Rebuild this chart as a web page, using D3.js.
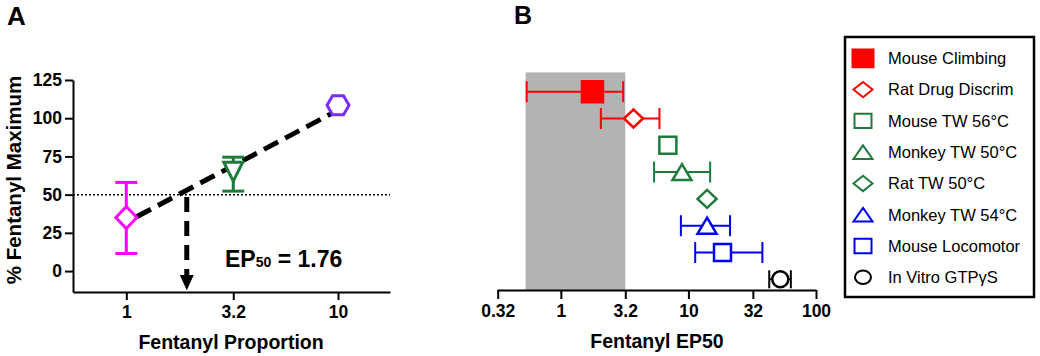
<html>
<head>
  <script src="https://d3js.org/d3.v7.min.js"></script>
  <style>
    body { margin: 0; background: #fff; }
    svg text { font-family: Arial, "Liberation Sans", sans-serif; }
    .axis path, .axis line { stroke: #000; stroke-width: 2px; }
    .axis text { font-size: 17.5px; font-weight: bold; fill: #000; }
  </style>
</head>
<body>
<svg id="fig" width="1040" height="356"></svg>

<script>
  // ---- panel A data ----
  const propX = [1, 3.2, 10];
  const pctY = [35, 65, 108.5];
  const pctLo = [11.5, 52.3, null];
  const pctHi = [58, 74.5, null];
  const propColors = ["#ff00ff", "#1f7a3c", "#7b2cf5"];
  const propShapes = ["diamond", "triangleDown", "hexagon"];
  const fitLine = [{x: 1.12, y: 35.5}, {x: 9.3, y: 103}];
  const ep50Arrow = 1.93;
  const yTicksA = [0, 25, 50, 75, 100, 125];
  const xTicksA = [1, 3.2, 10];
  const xTickLabelsA = ["1", "3.2", "10"];

  // ---- panel B data ----
  const assays = ["Mouse Climbing", "Rat Drug Discrim", "Mouse TW 56°C", "Monkey TW 50°C",
                  "Rat TW 50°C", "Monkey TW 54°C", "Mouse Locomotor", "In Vitro GTPγS"];
  const ep50 = [1.77, 3.71, 6.9, 8.9, 14.0, 14.0, 18.5, 52.5];
  const ep50Lo = [0.54, 2.06, null, 5.38, null, 8.73, 11.3, 43];
  const ep50Hi = [3.08, 5.93, null, 14.8, null, 21.2, 38, 63.5];
  const assayColors = ["#ff0000", "#ff0000", "#1f7a3c", "#1f7a3c", "#1f7a3c", "#0000ee", "#0000ee", "#000000"];
  const assayShapes = ["squareFilled", "diamond", "square", "triangle", "diamond", "triangle", "square", "circle"];
  const shadeRange = [0.53, 3.2];
  const xTicksB = [0.32, 1, 3.2, 10, 32, 100];
  const xTickLabelsB = ["0.32", "1", "3.2", "10", "32", "100"];

  const svg = d3.select("svg#fig");

  // simple marker paths centred on 0,0
  function shapePath(type, w, h) {
    const a = w / 2, b = h / 2;
    if (type == "diamond") return `M0,${-b}L${a},0L0,${b}L${-a},0Z`;
    if (type == "square" || type == "squareFilled") return `M${-a},${-b}H${a}V${b}H${-a}Z`;
    if (type == "triangle") return `M0,${-b}L${a},${b}L${-a},${b}Z`;
    if (type == "triangleDown") return `M${-a},${-b}H${a}L0,${b}Z`;
    if (type == "hexagon") return `M${-a},0L${-a/2},${-b}H${a/2}L${a},0L${a/2},${b}H${-a/2}Z`;
    if (type == "circle") return `M${-a},0A${a},${b} 0 1,0 ${a},0A${a},${b} 0 1,0 ${-a},0Z`;
  }

  // ================= Panel A =================
  const xA = d3.scaleLog().domain([0.56, 17.6]).range([73, 390]);
  const yA = d3.scaleLinear().domain([-13.7, 125]).range([292, 80]);

  let panelA = svg.append("g").attr("id", "panelA");

  panelA.append("text").attr("x", 7).attr("y", 25)
    .attr("font-size", 26).attr("font-weight", "bold").text("A");

  panelA.append("g").attr("class", "axis")
    .attr("transform", "translate(73,0)")
    .call(d3.axisLeft(yA).tickValues(yTicksA).tickSize(8).tickSizeOuter(0).tickPadding(3));

  panelA.append("g").attr("class", "axis")
    .attr("transform", "translate(0,292)")
    .call(d3.axisBottom(xA).tickValues(xTicksA).tickSize(8).tickSizeOuter(0).tickPadding(6)
            .tickFormat((d, i) => xTickLabelsA[i]));

  panelA.append("text")
    .attr("transform", "translate(21,180) rotate(-90)")
    .attr("text-anchor", "middle").attr("font-size", 20.5).attr("font-weight", "bold")
    .text("% Fentanyl Maximum");

  panelA.append("text").attr("x", 231).attr("y", 349)
    .attr("text-anchor", "middle").attr("font-size", 19.5).attr("font-weight", "bold")
    .text("Fentanyl Proportion");

  // 50% reference line
  panelA.append("line")
    .attr("x1", xA.range()[0]).attr("x2", xA.range()[1])
    .attr("y1", yA(50)).attr("y2", yA(50))
    .attr("stroke", "#000").attr("stroke-width", 1.5).attr("stroke-dasharray", "2,2");

  // fitted dashed line
  panelA.append("path")
    .datum(fitLine)
    .attr("d", d3.line().x(d => xA(d.x)).y(d => yA(d.y)))
    .attr("stroke", "#000").attr("stroke-width", 5).attr("stroke-dasharray", "16,8")
    .attr("fill", "none");

  // arrow down to EP50
  panelA.append("line")
    .attr("x1", xA(ep50Arrow)).attr("x2", xA(ep50Arrow))
    .attr("y1", yA(48.5)).attr("y2", yA(-3))
    .attr("stroke", "#000").attr("stroke-width", 5).attr("stroke-dasharray", "15,9");
  panelA.append("path")
    .attr("d", `M${xA(ep50Arrow) - 7},${yA(-2.5)}L${xA(ep50Arrow) + 7},${yA(-2.5)}L${xA(ep50Arrow)},${yA(-12.6)}Z`)
    .attr("fill", "#000");

  let epText = panelA.append("text").attr("x", 225).attr("y", 267)
    .attr("font-size", 23).attr("font-weight", "bold");
  epText.append("tspan").text("EP");
  epText.append("tspan").attr("font-size", 14).text("50");
  epText.append("tspan").text(" = 1.76");

  // error bars A
  propX.forEach((x, i) => {
    if (pctLo[i] == null) return;
    let g = panelA.append("g").attr("stroke", propColors[i]).attr("stroke-width", 3);
    g.append("line").attr("x1", xA(x)).attr("x2", xA(x)).attr("y1", yA(pctLo[i])).attr("y2", yA(pctHi[i]));
    [pctLo[i], pctHi[i]].forEach(v => {
      g.append("line").attr("x1", xA(x) - 11).attr("x2", xA(x) + 11).attr("y1", yA(v)).attr("y2", yA(v));
    });
  });

  panelA.selectAll("path.pt").data(propX)
    .join("path").attr("class", "pt")
    .attr("transform", (d, i) => `translate(${xA(d)},${yA(pctY[i])})`)
    .attr("d", (d, i) => propShapes[i] == "hexagon" ? shapePath("hexagon", 22, 19)
                        : propShapes[i] == "diamond" ? shapePath("diamond", 21, 22) : shapePath(propShapes[i], 19, 19))
    .attr("fill", "#fff").attr("stroke", (d, i) => propColors[i]).attr("stroke-width", 3);

  // ================= Panel B =================
  const xB = d3.scaleLog().domain([0.316, 100]).range([497, 816]);
  const yB = d3.scaleLinear().domain([1, 8]).range([91.7, 279.3]);

  let panelB = svg.append("g").attr("id", "panelB");

  panelB.append("text").attr("x", 514).attr("y", 24)
    .attr("font-size", 25).attr("font-weight", "bold").text("B");

  panelB.append("rect")
    .attr("x", xB(shadeRange[0])).attr("width", xB(shadeRange[1]) - xB(shadeRange[0]))
    .attr("y", yB(0.28)).attr("height", 290 - yB(0.28))
    .attr("fill", "#b3b3b3");

  panelB.append("g").attr("class", "axis")
    .attr("transform", "translate(0,290)")
    .call(d3.axisBottom(xB).tickValues(xTicksB).tickSize(9).tickSizeOuter(0).tickPadding(6)
            .tickFormat((d, i) => xTickLabelsB[i]));

  panelB.append("text").attr("x", 657).attr("y", 348)
    .attr("text-anchor", "middle").attr("font-size", 19.5).attr("font-weight", "bold")
    .text("Fentanyl EP50");

  ep50.forEach((v, i) => {
    if (ep50Lo[i] == null) return;
    let y = yB(i + 1);
    let cap = assayShapes[i] == "circle" ? 9 : 10.5;
    let g = panelB.append("g").attr("stroke", assayColors[i]).attr("stroke-width", 2);
    g.append("line").attr("x1", xB(ep50Lo[i])).attr("x2", xB(ep50Hi[i])).attr("y1", y).attr("y2", y);
    [ep50Lo[i], ep50Hi[i]].forEach(e => {
      g.append("line").attr("x1", xB(e)).attr("x2", xB(e)).attr("y1", y - cap).attr("y2", y + cap);
    });
  });

  function markerSize(s) {
    if (s == "squareFilled") return [21, 21];
    if (s == "square") return [17, 17];
    if (s == "triangle") return [19, 16];
    if (s == "circle") return [16, 16];
    return [19, 18];
  }

  panelB.selectAll("path.pt").data(ep50)
    .join("path").attr("class", "pt")
    .attr("transform", (d, i) => `translate(${xB(d)},${yB(i + 1)})`)
    .attr("d", (d, i) => shapePath(assayShapes[i], ...markerSize(assayShapes[i])))
    .attr("fill", (d, i) => assayShapes[i] == "squareFilled" ? assayColors[i] : "#fff")
    .attr("stroke", (d, i) => assayColors[i]).attr("stroke-width", 2.5);

  // ================= Legend =================
  let legend = svg.append("g").attr("id", "legend");
  legend.append("rect").attr("x", 845).attr("y", 37).attr("width", 189).attr("height", 260)
    .attr("fill", "#fff").attr("stroke", "#000").attr("stroke-width", 2.5);

  const legendY = d3.scaleLinear().domain([0, 7]).range([58.3, 277.3]);

  let rows = legend.selectAll("g.row").data(assays)
    .join("g").attr("class", "row")
    .attr("transform", (d, i) => `translate(863,${legendY(i)})`);

  rows.append("path")
    .attr("d", (d, i) => {
      let s = markerSize(assayShapes[i]);
      return shapePath(assayShapes[i], s[0], s[1] * 0.85);
    })
    .attr("fill", (d, i) => assayShapes[i] == "squareFilled" ? assayColors[i] : "#fff")
    .attr("stroke", (d, i) => assayColors[i]).attr("stroke-width", 2);

  rows.append("text").attr("x", 25).attr("y", 0).attr("dy", "0.35em")
    .attr("font-size", 16.5).text(d => d);
</script>
</body>
</html>
